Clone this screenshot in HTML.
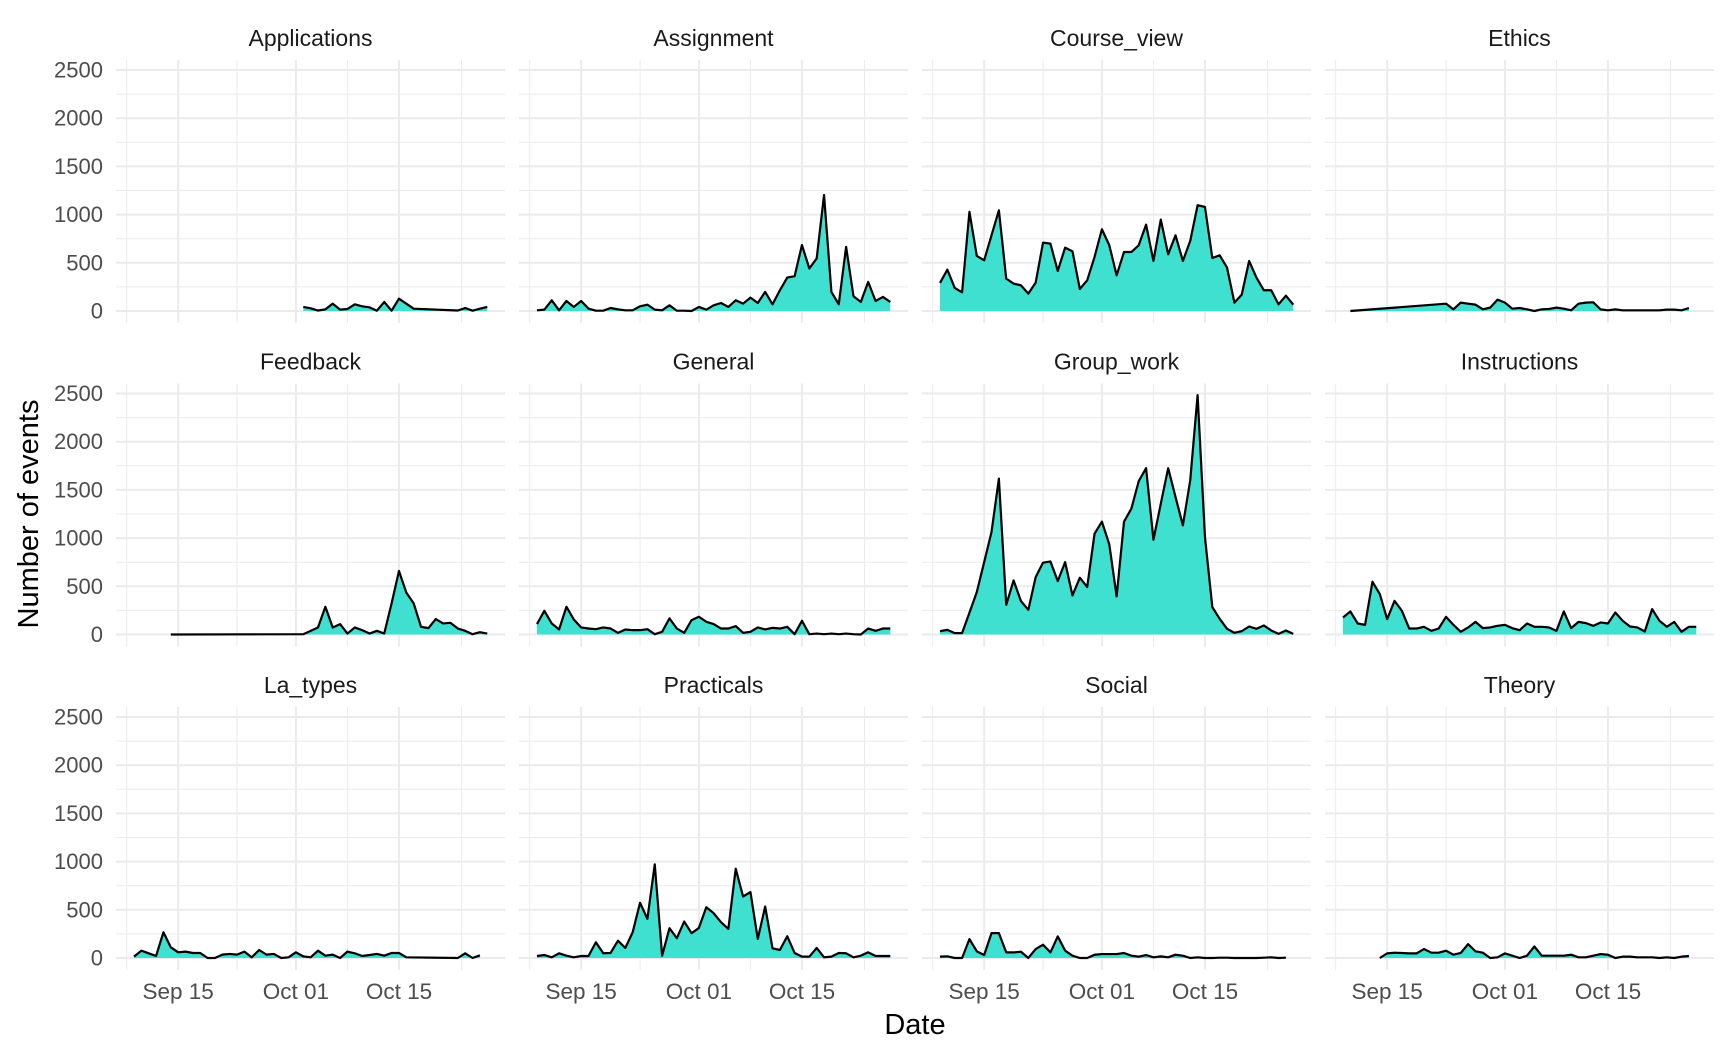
<!DOCTYPE html>
<html><head><meta charset="utf-8"><style>
html,body{margin:0;padding:0;background:#fff;}
svg{display:block;font-family:"Liberation Sans",sans-serif;}
</style></head><body>
<svg id="chart" width="1728" height="1056" viewBox="0 0 1728 1056" xmlns="http://www.w3.org/2000/svg"></svg>
<script>
// Day index 0 = Sep 09; null = no data that day
const panelNames = ["Applications","Assignment","Course_view","Ethics","Feedback","General","Group_work","Instructions","La_types","Practicals","Social","Theory"];
const N = null;
const applications = [N,N,N,N,N,N,N,N,N,N,N,N,N,N,N,N,N,N,N,N,N,N,N,42,28,5,17,76,14,21,69,49,38,3,94,3,128,76,24,N,N,N,N,N,5,31,3,24,42];
const assignment = [7,14,111,7,104,42,104,24,3,3,31,17,7,7,49,66,14,7,59,3,3,0,42,14,59,83,42,111,76,139,83,198,69,215,347,361,684,441,545,1204,198,69,666,153,94,302,104,146,94];
const courseView = [291,429,239,194,1028,571,526,785,1045,336,284,266,180,294,709,699,415,657,619,228,318,561,848,682,370,612,612,682,896,519,948,588,785,519,727,1097,1080,550,578,450,87,170,519,346,215,215,69,159,66];
const ethics = [N,0,N,N,N,N,N,N,N,N,N,N,N,N,76,17,87,76,66,17,35,118,87,24,31,17,0,17,21,35,24,7,76,87,90,17,7,17,7,7,7,7,7,7,14,14,7,31];
const feedback = [N,N,N,N,N,0,N,N,N,N,N,N,N,N,N,N,N,N,N,N,N,N,N,3,38,73,288,73,108,10,73,45,10,38,10,323,659,434,323,80,66,160,115,121,62,38,3,24,10];
const general = [108,246,115,52,288,156,73,62,55,73,62,17,52,45,45,55,3,28,167,62,17,149,184,132,108,62,62,87,17,28,73,52,69,62,80,3,142,3,10,3,10,3,10,3,0,62,38,62,62];
const groupWork = [35,48,14,14,225,440,750,1063,1617,308,561,346,256,595,745,758,554,751,405,589,492,1046,1170,935,395,1170,1305,1590,1725,983,1357,1725,1427,1132,1600,2483,1011,284,163,59,17,35,83,59,94,42,7,42,7];
const instructions = [176,239,114,100,547,419,159,349,246,62,62,80,38,62,183,100,28,73,131,66,73,90,100,66,45,114,80,80,73,38,239,66,131,118,90,125,114,228,142,83,73,31,263,142,80,131,28,80,80];
const laTypes = [14,76,49,21,267,111,59,66,52,52,0,0,35,42,35,66,7,83,35,42,0,7,59,17,7,76,24,35,0,66,49,21,31,42,24,52,52,7,N,N,N,N,N,N,0,49,0,28];
const practicals = [21,31,7,49,24,7,21,21,163,49,52,180,104,267,573,406,972,24,309,205,378,257,312,527,465,371,302,926,638,684,198,534,101,83,226,52,14,14,104,7,14,52,49,7,24,59,21,21,21];
const social = [14,17,0,0,196,69,31,258,258,58,58,65,0,93,138,58,224,76,24,0,0,34,41,41,41,52,24,14,31,7,17,7,34,24,0,7,0,0,3,3,0,0,0,0,3,7,0,3];
const theory = [N,N,N,N,N,0,48,55,52,48,48,93,55,55,76,34,52,144,69,55,0,7,48,24,0,24,120,24,24,24,24,34,7,7,24,41,34,0,14,14,7,7,7,0,7,0,14,21];
const yTicks = [0,500,1000,1500,2000,2500];
const xTickLabels = ["Sep 15","Oct 01","Oct 15"];
const xTickDays = [6,22,36];
const xMinorDays = [-1,14,29,44.5];

const series = [applications,assignment,courseView,ethics,feedback,general,groupWork,instructions,laTypes,practicals,social,theory];
const NS = "http://www.w3.org/2000/svg";
const svg = document.getElementById("chart");
const colX = [116,519,922,1325], rowZero = [311,634.5,958];
const panelW = 389, dayPx = 7.36, yMaxPx = 241, yMax = 2500;
function mk(tag, attrs, parent){ const e=document.createElementNS(NS,tag); for(const k in attrs) e.setAttribute(k,attrs[k]); (parent||svg).appendChild(e); return e; }
function sx(x0,d){ return x0 + 18 + d*dayPx; }
function sy(z,v){ return z - v/yMax*yMaxPx; }

series.forEach((vals, p) => {
  const c = p%4, r = Math.floor(p/4);
  const x0 = colX[c], z = rowZero[r];
  const g = mk("g", {});
  
  
  const top = z - 251, bot = z + 12;
  for (let v=0; v<=2500; v+=250) {
    const major = v%500===0;
    const l = mk("line", {x1:x0, x2:x0+panelW, y1:sy(z,v), y2:sy(z,v), stroke:"#ebebeb", "stroke-width": major?2:1}, g);
    
    
  }
  xMinorDays.forEach(d => {
    const l = mk("line", {x1:sx(x0,d), x2:sx(x0,d), y1:top, y2:bot, stroke:"#ebebeb", "stroke-width":1}, g);
    
    
  });
  xTickDays.forEach(d => {
    const l = mk("line", {x1:sx(x0,d), x2:sx(x0,d), y1:top, y2:bot, stroke:"#ebebeb", "stroke-width":2}, g);
    
    
  });
  const pts = [];
  vals.forEach((v,i) => { if (v!==null) pts.push([sx(x0,i), sy(z,v)]); });
  if (pts.length) {
    let d = "M"+pts[0][0]+","+z;
    pts.forEach(q => d += " L"+q[0]+","+q[1]);
    d += " L"+pts[pts.length-1][0]+","+z+" Z";
    const a = mk("path", {d:d, fill:"#40E0D0", stroke:"none"}, g);
    
    
    const ln = mk("polyline", {points: pts.map(q=>q.join(",")).join(" "), fill:"none", stroke:"#000", "stroke-width":2.2, "stroke-linejoin":"round"}, g);
    
    
  }
  const t = mk("text", {x:x0+panelW/2, y:z-265, "text-anchor":"middle", "font-size":23, fill:"#1a1a1a"}, g);
  t.textContent = panelNames[p];
  
  
  if (c===0) {
    yTicks.forEach(v => {
      const yt = mk("text", {x:103, y:sy(z,v)+7.5, "text-anchor":"end", "font-size":22, fill:"#4d4d4d"}, g);
      yt.textContent = v;
      
      
    });
  }
  if (r===2) {
    xTickDays.forEach((d,k) => {
      const xt = mk("text", {x:sx(x0,d), y:999, "text-anchor":"middle", "font-size":22.5, fill:"#4d4d4d"}, g);
      xt.textContent = xTickLabels[k];
      
      
    });
  }
});
const xt = mk("text", {x:915, y:1034, "text-anchor":"middle", "font-size":29, fill:"#000"});
xt.textContent = "Date";


const yt = mk("text", {x:0, y:0, "text-anchor":"middle", "font-size":29, fill:"#000", transform:"translate(38,514) rotate(-90)"});
yt.textContent = "Number of events";


</script>
</body></html>
